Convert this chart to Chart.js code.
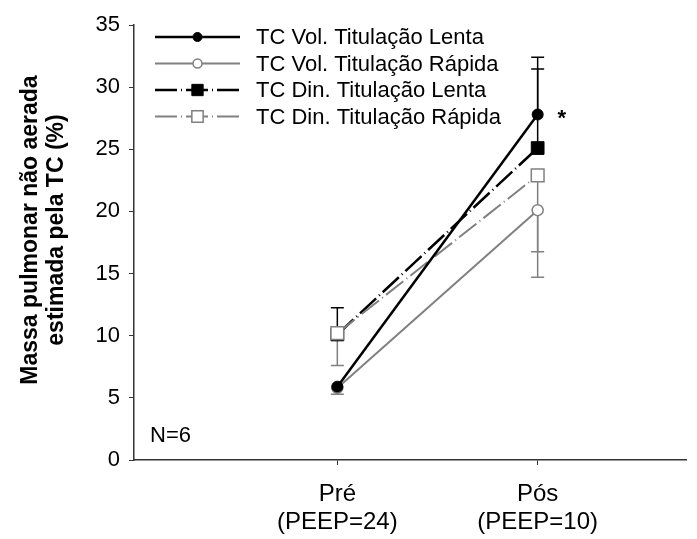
<!DOCTYPE html>
<html>
<head>
<meta charset="utf-8">
<script src="https://cdn.jsdelivr.net/npm/chart.js@4.4.0/dist/chart.umd.min.js"></script>
<style>
  html, body { margin: 0; padding: 0; background: #fff; overflow: hidden; }
  canvas { display: block; }
</style>
</head>
<body>
<canvas id="chart" width="697" height="539"></canvas>
<script>
// ---- data ----
const categories = [['Pré', '(PEEP=24)'], ['Pós', '(PEEP=10)']];
const xPositions = [1, 2];
const seriesNames = [
  'TC Vol. Titulação Lenta',
  'TC Vol. Titulação Rápida',
  'TC Din. Titulação Lenta',
  'TC Din. Titulação Rápida'
];
const volLenta = [5.9, 27.8];
const volRapida = [5.8, 20.1];
const dinLenta = [10.1, 25.1];
const dinRapida = [10.2, 22.9];
// one-sided error bars: positive goes up, negative goes down
const volLentaErr = [0, 4.6];
const volRapidaErr = [-0.5, -3.35];
const dinLentaErr = [2.15, 6.35];
const dinRapidaErr = [-2.6, -8.2];
const yTicks = [0, 5, 10, 15, 20, 25, 30, 35];
const yTitle = ['Massa pulmonar não aerada', 'estimada pela TC (%)'];

const FONT = 'Arial, "Liberation Sans", sans-serif';
const BLACK = '#000000';
const GRAY = '#808080';
const AXIS = '#333333';
const DASH = [22, 4, 1, 4];

const toPoints = vals => vals.map((v, i) => ({ x: xPositions[i], y: v }));

// order: lower value is painted later (on top)
const datasets = [
  {
    label: seriesNames[0], data: toPoints(volLenta), errors: volLentaErr, order: 0,
    borderColor: BLACK, borderWidth: 2.5, pointStyle: 'circle', pointRadius: 5.5,
    pointBackgroundColor: BLACK, pointBorderColor: BLACK, pointBorderWidth: 1
  },
  {
    label: seriesNames[1], data: toPoints(volRapida), errors: volRapidaErr, order: 1,
    borderColor: GRAY, borderWidth: 2, pointStyle: 'circle', pointRadius: 5.5,
    pointBackgroundColor: '#ffffff', pointBorderColor: GRAY, pointBorderWidth: 1.5
  },
  {
    label: seriesNames[2], data: toPoints(dinLenta), errors: dinLentaErr, order: 3,
    borderColor: BLACK, borderWidth: 2.5, borderDash: DASH, pointStyle: 'rect', pointRadius: 9,
    pointBackgroundColor: BLACK, pointBorderColor: BLACK, pointBorderWidth: 1
  },
  {
    label: seriesNames[3], data: toPoints(dinRapida), errors: dinRapidaErr, order: 2,
    borderColor: GRAY, borderWidth: 2, borderDash: DASH, pointStyle: 'rect', pointRadius: 9,
    pointBackgroundColor: '#ffffff', pointBorderColor: GRAY, pointBorderWidth: 1.5
  }
];

// error bars behind the markers
const errorBars = {
  id: 'errorBars',
  beforeDatasetsDraw(chart) {
    const { ctx, scales: { x, y } } = chart;
    ctx.save();
    chart.data.datasets.forEach(ds => {
      ds.data.forEach((p, i) => {
        const e = ds.errors[i];
        if (!e) return;
        const px = x.getPixelForValue(p.x);
        const y0 = y.getPixelForValue(p.y);
        const y1 = y.getPixelForValue(p.y + e);
        ctx.strokeStyle = ds.borderColor;
        ctx.lineWidth = 1.5;
        ctx.setLineDash([]);
        ctx.beginPath();
        ctx.moveTo(px, y0);
        ctx.lineTo(px, y1);
        ctx.moveTo(px - 6.5, y1);
        ctx.lineTo(px + 6.5, y1);
        ctx.stroke();
      });
    });
    ctx.restore();
  }
};

// y title, legend with line samples, N and significance mark
const extras = {
  id: 'extras',
  afterDraw(chart) {
    const { ctx, scales: { x, y }, chartArea } = chart;
    ctx.save();

    ctx.fillStyle = '#000';
    ctx.font = 'bold 23px ' + FONT;
    ctx.textAlign = 'center';
    ctx.textBaseline = 'middle';
    yTitle.forEach((line, i) => {
      ctx.save();
      ctx.translate(31 + i * 26, 230);
      ctx.rotate(-Math.PI / 2);
      ctx.fillText(line, 0, 0);
      ctx.restore();
    });

    const x0 = 155, x1 = 240, tx = 256, top = 37, step = 26.5;
    chart.data.datasets.forEach((ds, i) => {
      const ry = top + i * step;
      ctx.strokeStyle = ds.borderColor;
      ctx.lineWidth = ds.borderWidth;
      ctx.setLineDash(ds.borderDash || []);
      ctx.beginPath();
      ctx.moveTo(x0, ry);
      ctx.lineTo(x1, ry);
      ctx.stroke();
      ctx.setLineDash([]);
      ctx.fillStyle = ds.pointBackgroundColor;
      ctx.strokeStyle = ds.pointBorderColor;
      ctx.lineWidth = ds.pointBorderWidth;
      Chart.helpers.drawPoint(ctx, {
        pointStyle: ds.pointStyle, rotation: 0,
        radius: ds.pointRadius - 1,
        borderWidth: ds.pointBorderWidth
      }, (x0 + x1) / 2, ry);
      ctx.fillStyle = '#000';
      ctx.font = '22px ' + FONT;
      ctx.textAlign = 'left';
      ctx.textBaseline = 'middle';
      ctx.fillText(ds.label, tx, ry + 1);
    });

    ctx.fillStyle = '#000';
    ctx.font = '22px ' + FONT;
    ctx.textAlign = 'left';
    ctx.textBaseline = 'middle';
    ctx.fillText('N=6', chartArea.left + 16, y.getPixelForValue(1.9));

    ctx.font = 'bold 22px ' + FONT;
    ctx.textAlign = 'center';
    ctx.fillText('*', x.getPixelForValue(xPositions[1]) + 24, y.getPixelForValue(volLenta[1]) + 4);
    ctx.restore();
  }
};

new Chart(document.getElementById('chart'), {
  type: 'line',
  data: { datasets },
  options: {
    responsive: false,
    animation: false,
    layout: { padding: { top: 25, left: 0, right: 0, bottom: 0 } },
    plugins: {
      legend: { display: false },
      tooltip: { enabled: false }
    },
    elements: { line: { tension: 0 } },
    scales: {
      x: {
        type: 'linear',
        min: -0.015,
        max: 2.743,
        afterFit: s => { s.height = 79; },
        afterBuildTicks: s => { s.ticks = xPositions.map(v => ({ value: v })); },
        ticks: {
          autoSkip: false, maxRotation: 0, padding: 15, color: '#000',
          font: { family: FONT, size: 24, lineHeight: 1.17 },
          callback: v => categories[xPositions.indexOf(v)]
        },
        grid: { drawOnChartArea: false, drawTicks: true, tickLength: 5, tickColor: AXIS },
        border: { display: true, color: AXIS, width: 1.5 }
      },
      y: {
        min: 0,
        max: 35,
        afterFit: s => { s.width = 134; },
        afterBuildTicks: s => { s.ticks = yTicks.map(v => ({ value: v })); },
        ticks: { padding: 9, color: '#000', font: { family: FONT, size: 22 } },
        grid: { drawOnChartArea: false, drawTicks: true, tickLength: 5, tickColor: AXIS },
        border: { display: true, color: AXIS, width: 1.5 }
      }
    }
  },
  plugins: [errorBars, extras]
});
</script>
</body>
</html>
